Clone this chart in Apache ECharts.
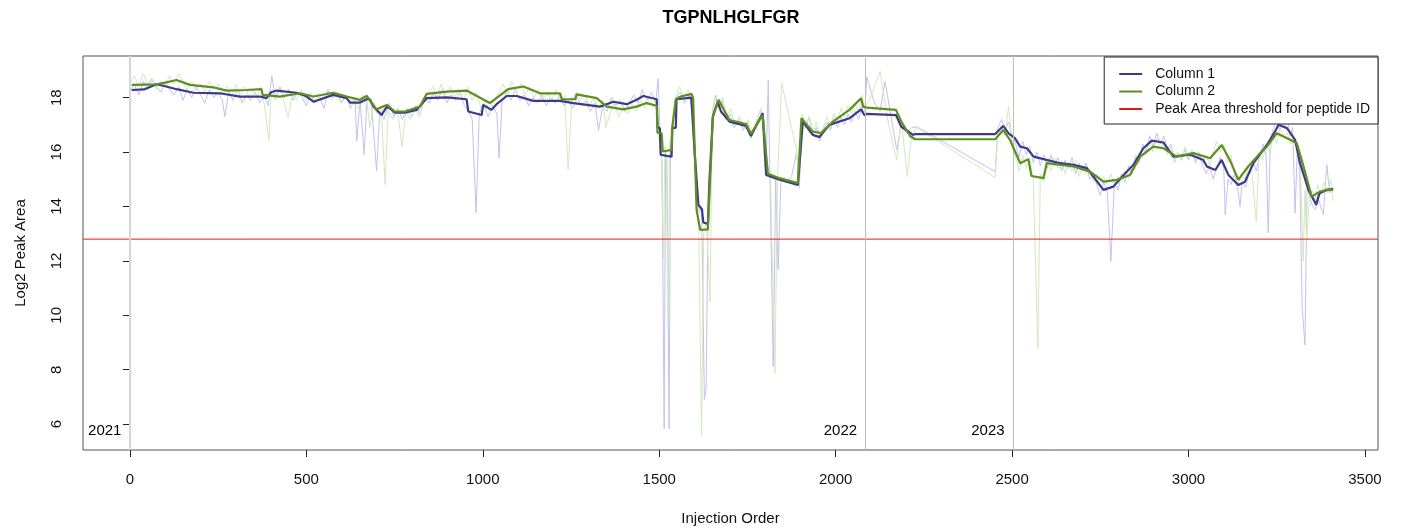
<!DOCTYPE html>
<html>
<head>
<meta charset="utf-8">
<script src="https://cdn.jsdelivr.net/npm/echarts@6/dist/echarts.min.js"></script>
<style>
  html, body { margin: 0; padding: 0; background: #ffffff; }
  #chart { width: 1402px; height: 532px; }
</style>
</head>
<body>
<div id="chart"></div>
<script>
// ---- Peptide TGPNLHGLFGR: log2 peak area by injection order ----

const peptide = 'TGPNLHGLFGR';
const seriesNames = ['Column 1', 'Column 2', 'Peak Area threshold for peptide ID'];
const xTicks = [0, 500, 1000, 1500, 2000, 2500, 3000, 3500];
const yTicks = [6, 8, 10, 12, 14, 16, 18];
const yearStarts = [0, 2085, 2503];
const yearLabels = ['2021', '2022', '2023'];
const threshold = 12.8;

// Smoothed trace, column 1
const col1X = [5, 40, 75, 100, 132, 180, 255, 312, 368, 387, 400, 416, 472, 500, 520, 576, 614, 624, 652, 671,
  680, 690, 713, 728, 742, 751, 779, 813, 841, 898, 954, 959, 997, 1001, 1025, 1039, 1068, 1096, 1143, 1219,
  1257, 1332, 1370, 1408, 1436, 1455, 1493, 1495, 1502, 1504, 1521, 1535, 1537, 1547, 1549, 1591, 1595, 1600, 1611, 1621,
  1625, 1638, 1642, 1652, 1666, 1675, 1699, 1746, 1760, 1793, 1803, 1841, 1893, 1897, 1907, 1935, 1954, 1982, 2039, 2072,
  2081, 2088, 2171, 2186, 2200, 2219, 2225, 2452, 2475, 2490, 2508, 2523, 2542, 2561, 2598, 2636, 2674, 2712, 2730, 2759,
  2787, 2816, 2844, 2872, 2896, 2929, 2957, 3005, 3042, 3052, 3076, 3094, 3113, 3141, 3160, 3184, 3222, 3245, 3255, 3279,
  3302, 3316, 3340, 3362, 3371, 3392, 3410];
const col1Y = [18.28, 18.30, 18.49, 18.42, 18.31, 18.18, 18.16, 18.04, 18.04, 17.98, 18.20, 18.26, 18.18, 18.05, 17.85, 18.10, 17.98, 17.82, 17.82, 17.94,
  17.94, 17.67, 17.36, 17.67, 17.55, 17.45, 17.45, 17.55, 17.98, 18.01, 17.94, 17.49, 17.36, 17.73, 17.55, 17.76, 18.06, 18.06, 17.88, 17.88,
  17.80, 17.67, 17.85, 17.76, 17.92, 18.06, 17.94, 16.93, 16.87, 15.90, 15.86, 15.83, 16.87, 16.90, 17.94, 18.00, 17.94, 16.08, 14.06, 13.90,
  13.41, 13.36, 14.86, 17.30, 17.85, 17.49, 17.12, 16.96, 16.59, 17.43, 15.16, 14.98, 14.79, 14.80, 17.12, 16.63, 16.55, 17.00, 17.24, 17.57,
  17.36, 17.40, 17.36, 16.93, 16.81, 16.63, 16.66, 16.66, 16.96, 16.69, 16.51, 16.20, 16.14, 15.83, 15.71, 15.59, 15.53, 15.41, 15.10, 14.61,
  14.73, 15.16, 15.53, 16.14, 16.42, 16.35, 15.83, 15.90, 15.71, 15.47, 15.34, 15.71, 15.16, 14.79, 14.91, 15.59, 16.26, 16.75, 17.00, 16.88,
  16.45, 15.59, 14.61, 14.06, 14.49, 14.61, 14.65];

// Smoothed trace, column 2
const col2X = [5, 75, 100, 132, 170, 236, 274, 330, 373, 376, 425, 482, 520, 576, 614, 652, 671, 699, 728, 751,
  779, 822, 841, 898, 954, 1020, 1072, 1115, 1162, 1219, 1224, 1262, 1266, 1323, 1351, 1398, 1436, 1464, 1493, 1495,
  1507, 1510, 1535, 1537, 1547, 1561, 1591, 1596, 1606, 1616, 1638, 1652, 1668, 1699, 1746, 1760, 1793, 1808, 1841, 1893,
  1903, 1935, 1959, 1992, 2039, 2072, 2078, 2088, 2171, 2186, 2211, 2225, 2452, 2475, 2494, 2523, 2546, 2555, 2589, 2598,
  2674, 2721, 2759, 2797, 2834, 2863, 2900, 2929, 2966, 3014, 3061, 3094, 3117, 3141, 3169, 3203, 3222, 3250, 3288, 3307,
  3326, 3349, 3373, 3401, 3410];
const col2Y = [18.47, 18.49, 18.55, 18.65, 18.47, 18.38, 18.26, 18.28, 18.31, 18.10, 18.04, 18.16, 18.04, 18.18, 18.04, 17.92, 18.06, 17.57, 17.73, 17.49,
  17.49, 17.67, 18.14, 18.22, 18.26, 17.80, 18.31, 18.41, 18.16, 18.16, 17.94, 17.94, 18.12, 17.98, 17.67, 17.57, 17.67, 17.80, 17.70, 16.71,
  16.69, 16.02, 16.08, 16.90, 17.94, 18.04, 18.14, 18.00, 13.87, 13.14, 13.16, 17.30, 17.92, 17.18, 17.03, 16.67, 17.36, 15.20, 15.04, 14.86,
  17.24, 16.75, 16.70, 17.12, 17.55, 17.98, 17.67, 17.63, 17.55, 17.12, 16.59, 16.47, 16.47, 16.81, 16.45, 15.59, 15.74, 15.12, 15.04, 15.59,
  15.47, 15.28, 14.91, 14.98, 15.16, 15.83, 16.20, 16.14, 15.83, 15.96, 15.77, 16.26, 15.71, 14.98, 15.47, 15.96, 16.20, 16.69, 16.45, 16.32,
  15.47, 14.36, 14.55, 14.63, 14.60];

// Individual injections, column 1
const raw1X = [0, 12, 25, 38, 50, 62, 75, 88, 100, 112, 125, 138, 150, 162, 175, 188, 200, 212, 225, 238,
  250, 262, 269, 280, 292, 305, 318, 330, 342, 355, 368, 380, 392, 402, 412, 425, 438, 450, 462, 475,
  488, 500, 512, 525, 538, 550, 562, 575, 588, 600, 612, 625, 638, 643, 652, 664, 672, 685, 699, 708,
  720, 735, 748, 760, 772, 785, 798, 810, 822, 835, 848, 860, 872, 885, 898, 910, 922, 935, 948, 960,
  970, 981, 990, 1002, 1015, 1028, 1040, 1046, 1055, 1068, 1080, 1092, 1105, 1118, 1130, 1142, 1155, 1168, 1180, 1192,
  1205, 1218, 1230, 1242, 1255, 1268, 1280, 1292, 1305, 1318, 1328, 1340, 1352, 1365, 1378, 1390, 1402, 1415, 1428, 1440,
  1452, 1465, 1478, 1490, 1497, 1503, 1508, 1514, 1518, 1522, 1528, 1532, 1540, 1548, 1560, 1572, 1584, 1592, 1600, 1608,
  1614, 1620, 1628, 1633, 1638, 1645, 1652, 1660, 1668, 1678, 1688, 1700, 1712, 1725, 1738, 1750, 1760, 1772, 1785, 1795,
  1803, 1809, 1823, 1830, 1837, 1845, 1860, 1875, 1889, 1897, 1905, 1915, 1925, 1935, 1945, 1955, 1965, 1975, 1985, 1995,
  2005, 2015, 2025, 2035, 2045, 2055, 2065, 2075, 2082, 2088, 2110, 2126, 2140, 2173, 2186, 2200, 2215, 2230, 2452, 2460,
  2470, 2480, 2490, 2500, 2510, 2520, 2530, 2540, 2550, 2560, 2570, 2580, 2590, 2600, 2610, 2620, 2630, 2640, 2650, 2660,
  2670, 2680, 2690, 2700, 2710, 2720, 2730, 2740, 2750, 2760, 2770, 2780, 2790, 2800, 2810, 2820, 2830, 2840, 2850, 2860,
  2870, 2880, 2890, 2900, 2910, 2920, 2930, 2940, 2950, 2960, 2970, 2980, 2990, 3000, 3010, 3020, 3030, 3040, 3050, 3060,
  3070, 3080, 3090, 3100, 3104, 3112, 3120, 3130, 3140, 3146, 3152, 3162, 3172, 3182, 3192, 3202, 3212, 3220, 3226, 3232,
  3242, 3250, 3258, 3265, 3272, 3280, 3288, 3295, 3302, 3308, 3315, 3322, 3330, 3336, 3344, 3352, 3360, 3366, 3372, 3382,
  3392, 3400, 3410];
const raw1Y = [18.2, 18.5, 18.1, 18.6, 18.3, 18.7, 18.4, 18.2, 18.6, 18.3, 18.1, 18.4, 17.9, 18.3, 18.0, 18.4, 18.1, 17.8, 18.3, 18.0,
  18.2, 17.9, 17.3, 18.2, 17.9, 18.3, 17.8, 18.1, 17.9, 18.2, 17.8, 18.1, 17.7, 18.8, 18.0, 18.4, 18.0, 18.3, 17.9, 18.2,
  18.0, 17.7, 18.1, 17.8, 18.0, 17.6, 18.3, 18.0, 18.2, 17.8, 18.1, 17.6, 18.0, 16.4, 17.9, 15.9, 18.1, 17.7, 15.3, 17.5,
  17.2, 17.8, 17.3, 17.6, 17.2, 17.6, 17.3, 17.7, 17.4, 18.0, 17.8, 18.2, 17.9, 18.3, 17.8, 18.1, 17.9, 18.2, 17.7, 17.5,
  17.2, 13.76, 17.4, 17.8, 17.3, 17.7, 17.4, 15.77, 17.9, 18.2, 17.9, 18.3, 17.9, 18.1, 17.7, 18.0, 17.8, 18.1, 17.7, 18.0,
  17.8, 18.1, 17.7, 17.9, 17.6, 18.0, 17.7, 17.9, 17.5, 17.8, 16.8, 17.7, 17.5, 18.0, 17.7, 17.9, 17.5, 17.8, 18.1, 17.8,
  18.3, 17.9, 18.2, 17.8, 18.7, 16.5, 15.6, 5.83, 16.0, 15.7, 5.83, 16.1, 17.2, 18.0, 18.2, 17.8, 18.1, 17.6, 15.8, 14.2,
  13.8, 14.0, 6.9, 7.3, 13.4, 15.5, 17.6, 18.1, 17.6, 17.9, 17.2, 17.4, 16.9, 17.2, 16.8, 17.1, 16.5, 17.0, 17.5, 17.3,
  15.4, 18.65, 8.12, 15.1, 11.67, 15.0, 14.9, 15.1, 15.96, 14.7, 17.2, 16.9, 17.3, 16.6, 16.9, 16.4, 16.8, 17.1, 16.8, 17.2,
  16.9, 17.3, 17.0, 17.4, 17.1, 17.5, 17.2, 17.7, 17.3, 18.77, 17.8, 17.5, 18.6, 16.08, 17.0, 16.7, 16.9, 16.93, 15.28, 16.9,
  17.2, 16.8, 17.1, 16.6, 16.3, 15.8, 16.4, 15.9, 16.2, 15.6, 16.0, 15.5, 15.9, 15.4, 15.9, 15.5, 15.8, 15.3, 15.7, 15.4,
  15.8, 15.2, 15.6, 15.3, 15.6, 15.0, 15.2, 14.8, 14.4, 14.9, 14.5, 11.98, 14.9, 14.6, 15.2, 14.9, 15.5, 15.2, 15.8, 15.6,
  16.3, 16.0, 16.6, 16.2, 16.7, 16.3, 16.6, 16.1, 16.3, 15.6, 16.0, 15.7, 16.1, 15.7, 16.0, 15.6, 15.9, 15.5, 15.2, 15.5,
  15.0, 15.4, 15.8, 15.4, 13.7, 15.0, 14.8, 15.2, 14.6, 14.0, 14.9, 14.7, 15.3, 15.7, 15.3, 15.9, 16.3, 15.9, 13.03, 16.5,
  16.9, 17.3, 16.8, 17.5, 17.0, 17.2, 16.6, 16.9, 13.76, 16.0, 15.4, 10.3, 8.91, 14.8, 14.3, 14.0, 13.9, 14.4, 14.1, 13.7,
  15.53, 14.5, 14.7];

// Individual injections, column 2
const raw2X = [0, 12, 25, 38, 50, 62, 75, 88, 100, 112, 125, 138, 150, 162, 175, 188, 200, 212, 225, 238,
  250, 262, 275, 288, 300, 312, 325, 338, 350, 362, 372, 380, 394, 400, 412, 425, 438, 448, 460, 472,
  485, 498, 510, 522, 535, 548, 560, 572, 585, 598, 610, 622, 635, 648, 660, 672, 680, 690, 700, 712,
  723, 732, 745, 758, 771, 782, 795, 808, 820, 832, 845, 858, 870, 882, 895, 908, 920, 932, 945, 958,
  970, 982, 995, 1008, 1020, 1032, 1045, 1058, 1070, 1082, 1095, 1108, 1120, 1132, 1145, 1158, 1170, 1182, 1195, 1208,
  1220, 1232, 1242, 1252, 1265, 1278, 1290, 1302, 1315, 1328, 1340, 1349, 1360, 1372, 1385, 1398, 1410, 1422, 1435, 1448,
  1460, 1472, 1484, 1493, 1500, 1506, 1512, 1516, 1520, 1525, 1530, 1540, 1548, 1558, 1570, 1582, 1592, 1600, 1606, 1612,
  1620, 1626, 1634, 1644, 1650, 1658, 1668, 1680, 1690, 1702, 1715, 1728, 1740, 1752, 1762, 1775, 1788, 1797, 1805, 1815,
  1828, 1835, 1847, 1889, 1897, 1905, 1915, 1925, 1935, 1945, 1955, 1965, 1975, 1985, 1995, 2005, 2015, 2025, 2035, 2045,
  2055, 2065, 2075, 2082, 2095, 2126, 2150, 2173, 2186, 2203, 2215, 2230, 2452, 2460, 2470, 2480, 2490, 2500, 2510, 2520,
  2530, 2540, 2550, 2560, 2573, 2580, 2590, 2600, 2610, 2620, 2630, 2640, 2650, 2660, 2670, 2680, 2690, 2700, 2710, 2720,
  2730, 2740, 2750, 2760, 2770, 2780, 2790, 2800, 2810, 2820, 2830, 2840, 2850, 2860, 2870, 2880, 2890, 2900, 2910, 2920,
  2930, 2940, 2950, 2960, 2970, 2980, 2990, 3000, 3010, 3020, 3030, 3040, 3050, 3060, 3070, 3080, 3090, 3100, 3110, 3120,
  3130, 3140, 3150, 3160, 3170, 3180, 3192, 3200, 3210, 3220, 3230, 3240, 3250, 3260, 3270, 3280, 3290, 3300, 3310, 3318,
  3325, 3330, 3335, 3342, 3350, 3358, 3366, 3375, 3385, 3395, 3403, 3410];
const raw2Y = [18.5, 18.8, 18.4, 18.9, 18.5, 18.7, 18.3, 18.6, 18.4, 18.8, 18.5, 18.9, 18.6, 18.3, 18.6, 18.3, 18.5, 18.2, 18.6, 18.3,
  18.5, 18.1, 18.4, 18.0, 18.5, 18.1, 18.4, 18.0, 18.3, 18.0, 18.4, 17.8, 16.45, 18.2, 17.9, 18.3, 17.8, 17.27, 18.1, 17.9,
  18.3, 17.9, 18.2, 17.8, 18.1, 17.9, 18.3, 17.9, 18.2, 17.8, 18.1, 17.8, 18.0, 17.6, 18.1, 17.8, 16.9, 17.8, 17.4, 17.7,
  14.8, 17.5, 17.2, 17.6, 16.2, 17.5, 17.2, 17.6, 17.3, 17.9, 18.1, 18.4, 18.0, 18.5, 18.1, 18.4, 18.0, 18.3, 17.9, 18.4,
  17.9, 18.2, 17.6, 17.9, 17.5, 17.9, 18.2, 18.5, 18.1, 18.6, 18.2, 18.5, 18.1, 18.4, 18.0, 18.3, 17.9, 18.2, 17.9, 18.3,
  17.9, 18.1, 15.34, 17.9, 18.2, 17.9, 18.1, 17.7, 18.0, 17.6, 17.9, 16.9, 17.4, 17.8, 17.3, 17.7, 17.4, 17.8, 17.5, 17.9,
  17.6, 18.0, 17.6, 18.0, 16.4, 15.8, 12.1, 16.2, 15.9, 9.5, 16.3, 17.5, 18.1, 18.4, 18.0, 18.3, 17.8, 15.5, 13.9, 13.3,
  5.6, 13.0, 13.4, 10.5, 16.9, 18.0, 17.6, 18.0, 17.3, 17.6, 17.0, 17.3, 16.9, 17.2, 16.6, 17.1, 17.6, 17.2, 15.5, 15.3,
  7.87, 15.0, 18.53, 16.08, 14.9, 17.4, 17.0, 17.3, 16.8, 17.1, 16.6, 16.9, 17.3, 16.9, 17.4, 17.1, 17.6, 17.3, 17.7, 17.4,
  17.8, 17.5, 18.1, 17.6, 17.9, 18.96, 17.0, 15.71, 17.2, 15.1, 16.6, 16.9, 15.06, 16.7, 17.0, 16.6, 17.67, 16.3, 15.8, 15.3,
  15.9, 15.4, 15.8, 15.0, 8.79, 15.2, 14.9, 15.7, 15.3, 15.8, 15.4, 15.7, 15.2, 15.6, 15.3, 15.7, 15.1, 15.5, 15.2, 15.4,
  14.9, 15.2, 14.7, 15.1, 14.8, 15.2, 14.8, 15.1, 14.9, 15.3, 15.0, 15.4, 15.9, 15.6, 16.2, 15.9, 16.4, 16.0, 16.5, 16.1,
  16.4, 15.9, 16.2, 15.6, 16.0, 15.7, 16.2, 15.8, 16.1, 15.7, 16.0, 15.6, 15.9, 15.5, 16.0, 16.4, 16.0, 16.3, 15.6, 15.9,
  15.2, 14.8, 15.2, 15.0, 15.5, 15.2, 13.44, 16.0, 15.7, 16.3, 16.0, 16.6, 16.3, 16.9, 16.5, 16.7, 16.3, 16.5, 16.0, 15.2,
  12.0, 14.6, 12.77, 14.2, 14.6, 14.2, 14.8, 14.4, 14.9, 14.5, 15.0, 14.2];

const zip = (xs, ys) => xs.map((x, i) => [x, ys[i]]);

// Plot window (base-graphics style 4% padding around the data)
const X_MIN = -133, X_MAX = 3537;
const Y_MIN = 5.05, Y_MAX = 19.53;
const YEAR_LABEL_Y = 5.74;

const FONT = '"Liberation Sans", Arial, Helvetica, sans-serif';
const INK = '#111111';
const COL1 = '#3f3a88';
const COL2 = '#5e8e22';
const RAW1 = '#c4c2ec';
const RAW2 = '#d2eabd';
const RED = '#e01818';
// legend key: a short horizontal bar
const LINE_KEY = 'path://M0,0 L23,0 L23,2 L0,2 Z';

const chart = echarts.init(document.getElementById('chart'), null, { renderer: 'canvas' });

chart.setOption({
  animation: false,
  backgroundColor: '#ffffff',
  textStyle: { fontFamily: FONT },
  graphic: [{
    type: 'text',
    x: 731, y: 18,
    style: {
      text: peptide, align: 'center', verticalAlign: 'middle',
      font: 'bold 18px ' + FONT, fill: '#000'
    }
  }],
  grid: {
    left: 83, right: 24, top: 56, bottom: 82,
    show: true, borderColor: '#555', borderWidth: 1, backgroundColor: 'transparent'
  },
  legend: {
    data: seriesNames.map(n => ({ name: n, icon: LINE_KEY })),
    orient: 'vertical',
    right: 24, top: 57,
    padding: [10, 8, 8, 15],
    itemWidth: 23, itemHeight: 14, itemGap: 3.5,
    symbolKeepAspect: true,
    backgroundColor: '#ffffff',
    borderColor: '#222', borderWidth: 1, borderRadius: 0,
    textStyle: { fontSize: 14, color: INK, fontFamily: FONT, padding: [0, 0, 0, 8], lineHeight: 14 },
    selectedMode: false
  },
  xAxis: {
    type: 'value', min: X_MIN, max: X_MAX,
    name: 'Injection Order', nameLocation: 'middle', nameGap: 61,
    nameTextStyle: { fontSize: 15, color: INK, fontFamily: FONT },
    axisLine: { show: false },
    axisTick: { show: true, customValues: xTicks, length: 7, lineStyle: { color: '#222', width: 1 } },
    axisLabel: { customValues: xTicks, margin: 22, fontSize: 15, color: INK, fontFamily: FONT,
      formatter: v => String(v) },
    splitLine: { show: false }
  },
  yAxis: {
    type: 'value', min: Y_MIN, max: Y_MAX,
    name: 'Log2 Peak Area', nameLocation: 'middle', nameGap: 55, nameRotate: 90,
    nameTextStyle: { fontSize: 15, color: INK, fontFamily: FONT },
    axisLine: { show: false },
    axisTick: { show: true, customValues: yTicks, length: 7, lineStyle: { color: '#222', width: 1 } },
    axisLabel: { customValues: yTicks, rotate: 90, margin: 19, fontSize: 15, color: INK, fontFamily: FONT,
      formatter: v => String(v) },
    splitLine: { show: false }
  },
  series: [
    {
      // year boundaries and their labels
      name: 'Years', type: 'scatter', z: 1,
      data: yearStarts.map(x => [x, YEAR_LABEL_Y]),
      symbolSize: 1, itemStyle: { color: '#ffffff', opacity: 1 },
      silent: true,
      label: {
        show: true, position: 'left', distance: 8, opacity: 1,
        formatter: p => yearLabels[p.dataIndex],
        fontSize: 15, color: '#000000', fontFamily: FONT
      },
      markLine: {
        silent: true, symbol: ['none', 'none'], label: { show: false },
        data: yearStarts.map((x, i) => ({
          xAxis: x,
          lineStyle: i === 0
            ? { color: '#d6d6d6', width: 2, type: 'solid' }
            : { color: '#bdbdbd', width: 1, type: 'solid' }
        }))
      }
    },
    {
      name: 'Column 1 injections', type: 'line', z: 2,
      data: zip(raw1X, raw1Y), symbol: 'none', silent: true,
      lineStyle: { color: RAW1, width: 1 }
    },
    {
      name: 'Column 2 injections', type: 'line', z: 2,
      data: zip(raw2X, raw2Y), symbol: 'none', silent: true,
      lineStyle: { color: RAW2, width: 1 }
    },
    {
      name: seriesNames[2], type: 'line', z: 3,
      data: [[X_MIN, threshold], [X_MAX, threshold]],
      symbol: 'none', silent: true,
      itemStyle: { color: RED },
      lineStyle: { color: RED, width: 1 }
    },
    {
      name: seriesNames[0], type: 'line', z: 4,
      data: zip(col1X, col1Y), symbol: 'none', silent: true,
      itemStyle: { color: COL1 },
      lineStyle: { color: COL1, width: 2.2 }
    },
    {
      name: seriesNames[1], type: 'line', z: 5,
      data: zip(col2X, col2Y), symbol: 'none', silent: true,
      itemStyle: { color: COL2 },
      lineStyle: { color: COL2, width: 2.2 }
    }
  ]
});
</script>
</body>
</html>
